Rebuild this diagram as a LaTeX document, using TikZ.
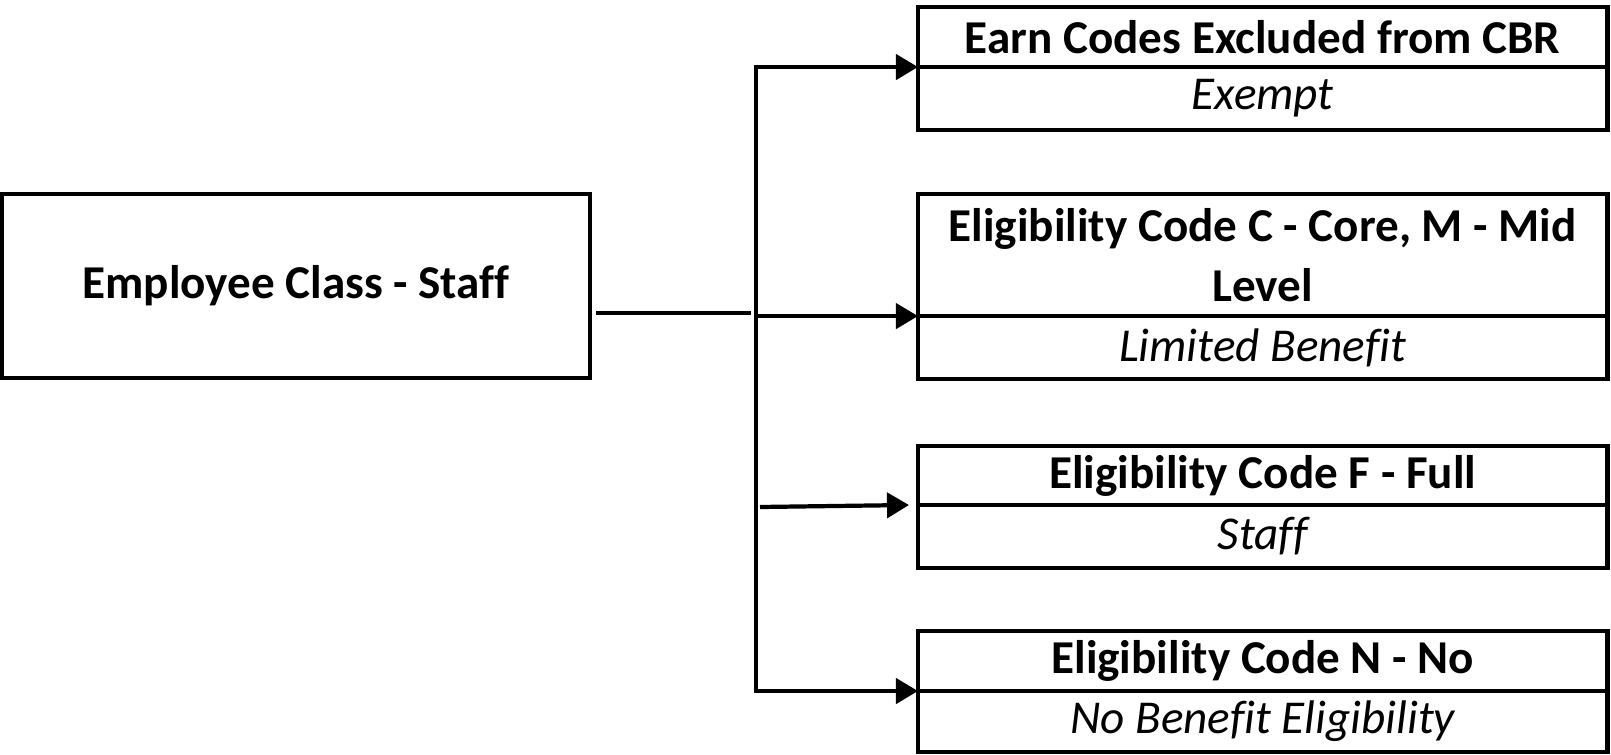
\documentclass[tikz,border=0pt]{standalone}
\usepackage{fontspec}
\setmainfont{Carlito}[Ligatures=NoCommon]
\usetikzlibrary{positioning,arrows.meta,calc}
\tikzset{
  classbox/.style={draw, line width=1.2pt, align=center, inner sep=0pt, outer sep=0pt,
    font=\fontsize{13.4}{17}\selectfont\bfseries},
  codehead/.style={classbox, minimum width=6.89cm, anchor=north west},
  codebody/.style={codehead, font=\fontsize{13.4}{17}\selectfont\itshape},
  link/.style={line width=1.2pt, line join=miter},
  linkarrow/.style={link, -{Triangle[length=2.2mm, width=2.5mm]}},
}

\begin{document}
\begin{tikzpicture}[x=0.01cm, y=-0.01cm]
  \useasboundingbox (0,0) rectangle (1611,754);
  % employee class on the left
  \node[classbox, minimum width=5.88cm, minimum height=1.84cm] (staff) at (296,286) {Employee Class - Staff};
  % code boxes: bold heading over an italic result
  \node[codehead, minimum height=0.6cm] (earn-h) at (918,7) {Earn Codes Excluded from CBR};
  \node[codebody, minimum height=0.63cm] (earn-b) at (earn-h.south west) {Exempt};
  \node[codehead, minimum height=1.22cm] (mid-h) at (918,194) {Eligibility Code C - Core, M - Mid\\Level};
  \node[codebody, minimum height=0.63cm] (mid-b) at (mid-h.south west) {Limited Benefit};
  \node[codehead, minimum height=0.59cm] (full-h) at (918,446) {Eligibility Code F - Full};
  \node[codebody, minimum height=0.63cm] (full-b) at (full-h.south west) {Staff};
  \node[codehead, minimum height=0.6cm] (none-h) at (918,631) {Eligibility Code N - No};
  \node[codebody, minimum height=0.61cm] (none-b) at (none-h.south west) {No Benefit Eligibility};
  % fork and branches
  \coordinate (fork) at (756,313);
  \coordinate (full-out) at (760,507);
  \coordinate (full-in) at (909,505);
  \draw[link] ([xshift=0.06cm]staff.east |- fork) -- ([xshift=-0.05cm]fork);
  \draw[linkarrow] (fork) |- (earn-h.south west);
  \draw[linkarrow] (fork) |- (none-h.south west);
  \draw[linkarrow] (fork |- mid-h.south west) -- (mid-h.south west);
  \draw[linkarrow] (full-out) -- (full-in);
\end{tikzpicture}
\end{document}
